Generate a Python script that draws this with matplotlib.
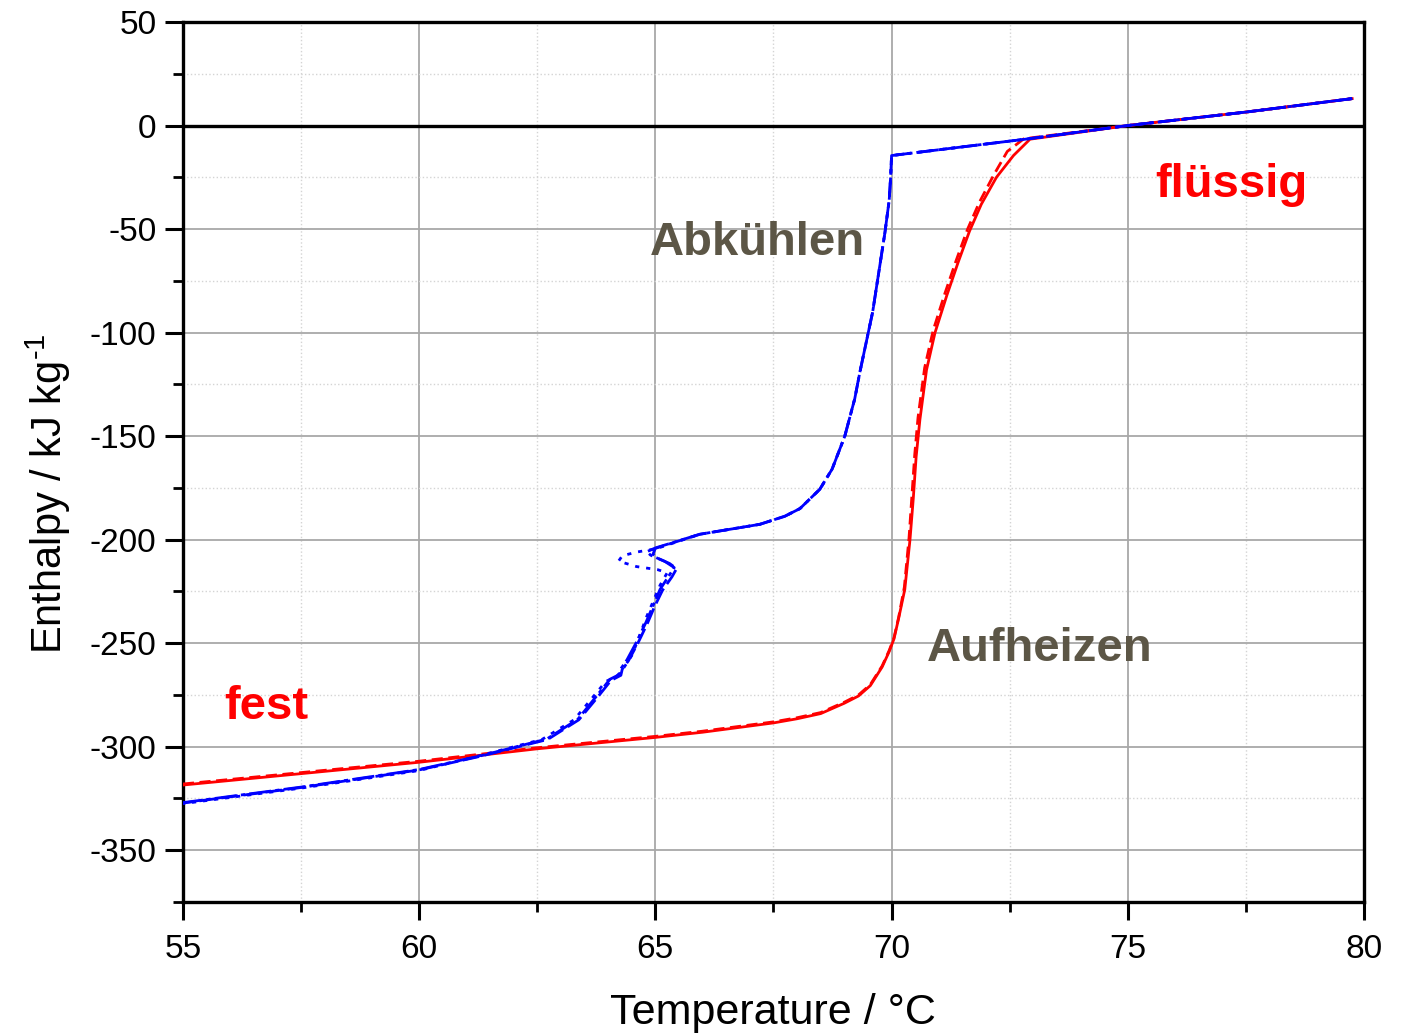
import matplotlib
matplotlib.use("Agg")
import matplotlib.pyplot as plt
from matplotlib.ticker import MultipleLocator

plt.rcParams['font.family'] = ['Liberation Sans', 'DejaVu Sans']
plt.rcParams['mathtext.fontset'] = 'custom'
plt.rcParams['mathtext.rm'] = 'Liberation Sans'
plt.rcParams['mathtext.it'] = 'Liberation Sans'
plt.rcParams['mathtext.bf'] = 'Liberation Sans:bold'

# Heating curve (solid)
heat_T = [55, 57.5, 60, 62.5, 65, 66, 67, 67.5, 68, 68.5, 69.0, 69.3, 69.55, 69.8, 69.95,
          70.05, 70.15, 70.28, 70.39, 70.46, 70.52, 70.6, 70.74, 70.92, 71.17, 71.41, 71.65,
          71.9, 72.22, 72.58, 72.93, 75, 77.5, 79.75]
heat_H = [-318.5, -313, -307.5, -301, -295.5, -293, -290, -288.5, -286.5, -284, -279, -275.5,
          -270.5, -261.5, -254, -248, -238, -224, -200, -180, -160, -142, -118, -100, -82,
          -66, -51, -38, -25, -14.5, -6.6, 0, 6.5, 13]

# Heating curve (second run, dashed)
heat2_T = [55, 57.5, 60, 62.5, 65, 66, 67, 67.5, 68, 68.5, 69.0, 69.3, 69.55, 69.8, 69.95,
           70.05, 70.15, 70.27, 70.37, 70.43, 70.49, 70.56, 70.7, 70.88, 71.13, 71.37, 71.61,
           71.86, 72.16, 72.45, 72.8, 75, 77.5, 79.75]
heat2_H = [-318, -312.5, -307, -300.5, -295, -292.5, -289.5, -288, -286, -283.5, -278.5, -275,
           -270, -261, -253.5, -247.5, -237.5, -223, -199, -179, -159, -141, -117, -99, -81,
           -65, -50, -37, -24, -12.5, -6.4, 0, 6.5, 13]

# Cooling curve A (dash-dot)
coolA_T = [79.75, 77.5, 75, 72.9, 70.0, 69.98, 69.95, 69.86, 69.6, 69.33, 69.22, 69.01, 68.74,
           68.48, 68.06, 67.74, 67.21, 65.94, 65.0, 64.82, 64.9, 65.2, 65.4, 65.3, 65.1, 64.95,
           64.8, 64.6, 64.4, 64.28, 64.25, 64.04, 63.76, 63.36, 62.7, 61.3, 60.0, 57.5, 55]
coolA_H = [13, 6.5, 0, -6.4, -14.5, -25, -36, -51.6, -90, -119, -132, -150, -166, -175.7, -185,
           -188.7, -192.6, -197.4, -204, -205.8, -207.5, -210.5, -213.5, -217, -224, -232, -240,
           -249.5, -258, -262, -265, -267.4, -275.4, -286.7, -296.3, -304.4, -311, -319.5, -327]

# Cooling curve B (dotted)
coolB_T = [79.75, 77.5, 75, 72.9, 70.0, 69.98, 69.95, 69.86, 69.6, 69.33, 69.22, 69.01, 68.74,
           68.48, 68.06, 67.74, 67.21, 65.94, 65.0, 64.6, 64.3, 64.22, 64.6, 65.05, 65.25, 65.1,
           64.95, 64.8, 64.65, 64.5, 64.3, 64.18, 63.95, 63.68, 63.28, 62.6, 61.2, 60.0, 57.5, 55]
coolB_H = [13, 6.5, 0, -6.4, -14.5, -25, -36, -51.6, -90, -119, -132, -150, -166, -175.7, -185,
           -188.7, -192.6, -197.4, -204.5, -206, -207.8, -210.4, -213, -214.5, -216, -222,
           -230, -238, -247.5, -256, -263, -266, -268.5, -276, -287, -296.5, -304.8, -311.5,
           -320, -327.5]

# Cooling curve C (dashed)
coolC_T = [79.75, 77.5, 75, 72.9, 70.0, 69.98, 69.95, 69.86, 69.6, 69.33, 69.22, 69.01, 68.74,
           68.48, 68.06, 67.74, 67.21, 65.94, 65.0, 64.95, 65.05, 65.3, 65.45, 65.35, 65.15,
           64.98, 64.83, 64.63, 64.43, 64.3, 64.27, 64.06, 63.78, 63.38, 62.72, 61.3, 60.0,
           57.5, 55]
coolC_H = [13, 6.5, 0, -6.4, -14.5, -25, -36, -51.6, -90, -119, -132, -150, -166, -175.7, -185,
           -188.7, -192.6, -197.4, -204.2, -207, -209, -211.5, -214, -218, -224.5, -232.5,
           -240.5, -250, -258.5, -262.5, -265.5, -268, -276, -287, -296.5, -304.6, -311.2,
           -319.7, -327.2]

x_ticks = [55, 60, 65, 70, 75, 80]
y_ticks = [-350, -300, -250, -200, -150, -100, -50, 0, 50]

annot_color = '#5c5646'

fig = plt.figure(figsize=(14.04, 10.33), dpi=100)
ax = fig.add_axes([0.1303, 0.1268, 0.8412, 0.8519])

ax.set_xlim(55, 80)
ax.set_ylim(-375, 50)
ax.set_xticks(x_ticks)
ax.set_yticks(y_ticks)
ax.xaxis.set_minor_locator(MultipleLocator(2.5))
ax.yaxis.set_minor_locator(MultipleLocator(25))

ax.grid(which='major', color='#a8a8a8', linewidth=1.3, linestyle='-', zorder=0)
ax.grid(which='minor', color='#d4d4d4', linewidth=1.0, linestyle=':', zorder=0)
ax.set_axisbelow(True)

ax.axhline(0, color='black', linewidth=2.4, zorder=2)

ax.plot(heat_T, heat_H, color='red', linewidth=2.0, linestyle='-', zorder=3)
ax.plot(heat2_T, heat2_H, color='red', linewidth=2.0, linestyle=(0, (4, 2)), zorder=3)
ax.plot(coolA_T, coolA_H, color='blue', linewidth=2.0, linestyle=(0, (8, 1.5, 1.5, 1.5)), zorder=4)
ax.plot(coolB_T, coolB_H, color='blue', linewidth=2.0, linestyle=(0, (1.5, 2.5)), zorder=4)
ax.plot(coolC_T, coolC_H, color='blue', linewidth=2.0, linestyle=(0, (6, 2)), zorder=4)

for s in ax.spines.values():
    s.set_linewidth(2.4)
    s.set_color('black')

ax.tick_params(which='major', direction='out', length=13, width=2.2, labelsize=24,
               top=False, right=False)
ax.tick_params(axis='x', which='major', pad=10)
ax.tick_params(axis='y', which='major', pad=6)
ax.tick_params(which='minor', direction='out', length=7, width=2.0, top=False, right=False)

ax.set_xticklabels([str(t) for t in x_ticks])
ax.set_yticklabels([str(t) for t in y_ticks])

ax.set_xlabel('Temperature / °C', fontsize=31)
ax.set_ylabel('Enthalpy / kJ kg$^{\\text{-1}}$', fontsize=30)
ax.xaxis.set_label_coords(0.4996, -0.1034)
ax.yaxis.set_label_coords(-0.093, 0.464)

ax.text(67.17, -62.3, 'Abkühlen', fontsize=34, fontweight='bold', color=annot_color,
        ha='center', va='baseline')
ax.text(73.14, -258.7, 'Aufheizen', fontsize=34, fontweight='bold', color=annot_color,
        ha='center', va='baseline')
ax.text(77.2, -34.7, 'flüssig', fontsize=34, fontweight='bold', color='red',
        ha='center', va='baseline')
ax.text(56.76, -286.7, 'fest', fontsize=34, fontweight='bold', color='red',
        ha='center', va='baseline')

fig.savefig('out.png', dpi=100)
